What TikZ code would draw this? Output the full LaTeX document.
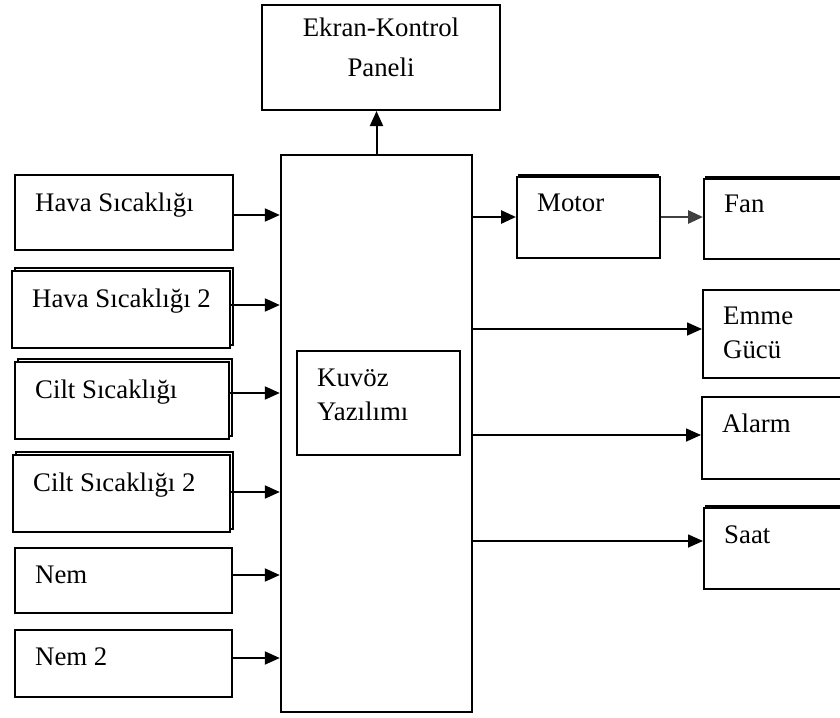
\documentclass[tikz,border=0pt]{standalone}
\usepackage{fontspec}
\setmainfont{Liberation Serif}
\usetikzlibrary{arrows.meta,shadows}

\tikzset{
  box/.style={draw, line width=2pt, fill=white, rectangle, inner sep=0pt},
  stacked/.style={copy shadow={shadow xshift=3pt, shadow yshift=3pt}},
  topstack/.style={copy shadow={shadow xshift=0pt, shadow yshift=3.5pt, shadow scale=0.97}},
  tag/.style={font=\fontsize{26.8}{34}\selectfont, inner sep=0pt, anchor=base west, xshift=21pt},
  tagc/.style={font=\fontsize{26.8}{34}\selectfont, inner sep=0pt, anchor=base},
  tip/.style={-{Triangle[length=15pt,width=13pt]}},
  arr/.style={tip, line width=2pt},
  arrthin/.style={tip, line width=1.6pt},
  arrthick/.style={tip, line width=2.8pt},
}

\begin{document}
\begin{tikzpicture}[x=1pt, y=-1pt]
\useasboundingbox (0,0) rectangle (840,717);
\clip (0,0) rectangle (840,717);

% display / control panel
\node[box, minimum width=238pt, minimum height=105pt,
  label={[tagc, yshift=-33pt]north:Ekran-Kontrol},
  label={[tagc, yshift=-72pt]north:Paneli}] (ek) at (381,57.5) {};

% central software block
\node[box, line width=2.4pt, minimum width=191pt, minimum height=557pt] (kb) at (376.5,433.5) {};
\node[box, minimum width=163pt, minimum height=104pt,
  label={[tag, yshift=-36pt]north west:Kuvöz},
  label={[tag, yshift=-70pt]north west:Yazılımı}] (ky) at (378.5,403) {};

% sensor inputs
\node[box, minimum width=218pt, minimum height=75pt,
  label={[tag, yshift=-37pt]north west:Hava Sıcaklığı}] (hs1) at (124,212.5) {};
\node[box, stacked, minimum width=218pt, minimum height=77pt,
  label={[tag, yshift=-37pt]north west:Hava Sıcaklığı 2}] (hs2) at (121,309.5) {};
\node[box, stacked, minimum width=214pt, minimum height=77pt,
  label={[tag, yshift=-37pt]north west:Cilt Sıcaklığı}] (cs1) at (122,400.5) {};
\node[box, stacked, minimum width=217pt, minimum height=77pt,
  label={[tag, yshift=-37pt]north west:Cilt Sıcaklığı 2}] (cs2) at (121.5,493.5) {};
\node[box, minimum width=217pt, minimum height=65pt,
  label={[tag, yshift=-36pt]north west:Nem}] (nem) at (123.5,580.5) {};
\node[box, minimum width=217pt, minimum height=67pt,
  label={[tag, yshift=-36pt]north west:Nem 2}] (nem2) at (123.5,663.5) {};

% outputs
\node[box, topstack, minimum width=143pt, minimum height=81pt,
  label={[tag, yshift=-35pt]north west:Motor}] (mot) at (588.5,217.5) {};
\node[box, topstack, minimum width=139pt, minimum height=80pt,
  label={[tag, yshift=-34pt]north west:Fan}] (fan) at (773.5,219) {};
\node[box, minimum width=140pt, minimum height=88pt,
  label={[tag, yshift=-35pt]north west:Emme},
  label={[tag, yshift=-69pt]north west:Gücü}] (emme) at (773,334) {};
\node[box, minimum width=141pt, minimum height=82pt,
  label={[tag, yshift=-36pt]north west:Alarm}] (alarm) at (772.5,438) {};
\node[box, topstack, minimum width=139pt, minimum height=81pt,
  label={[tag, yshift=-36pt]north west:Saat}] (saat) at (773.5,548.5) {};

% connectors: sensors into the software block
\draw[arr] (hs1.east |- 0,215) -- (kb.west |- 0,215);
\draw[arr] (hs2.east |- 0,305) -- (kb.west |- 0,305);
\draw[arr] (cs1.east |- 0,393) -- (kb.west |- 0,393);
\draw[arr] (cs2.east |- 0,492) -- (kb.west |- 0,492);
\draw[arr] (nem.east |- 0,575) -- (kb.west |- 0,575);
\draw[arr] (nem2.east |- 0,658) -- (kb.west |- 0,658);

% connectors: software block to panel and outputs
\draw[arr] (kb.north) -- (kb.north |- ek.south);
\draw[arrthick] (kb.east |- 0,217) -- (mot.west |- 0,217);
\draw[arrthick, black!75] (mot.east |- 0,217) -- (fan.west |- 0,217);
\draw[arrthin] (kb.east |- 0,329) -- (emme.west |- 0,329);
\draw[arrthin] (kb.east |- 0,435) -- (alarm.west |- 0,435);
\draw[arrthin] (kb.east |- 0,541) -- (saat.west |- 0,541);
\end{tikzpicture}
\end{document}
